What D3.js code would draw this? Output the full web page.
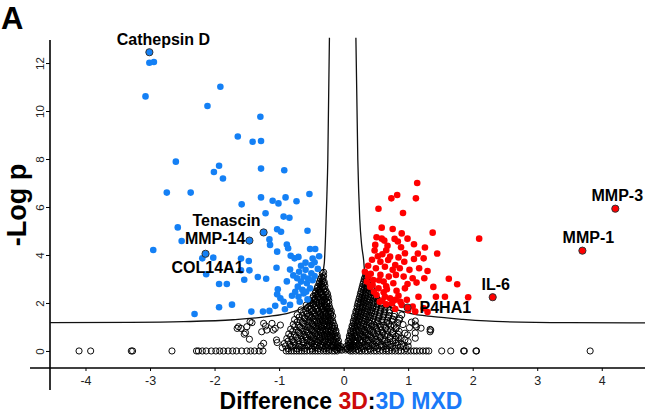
<!DOCTYPE html>
<html>
<head>
<meta charset="utf-8">
<script src="https://cdn.jsdelivr.net/npm/d3@7"></script>
<style>
  body { margin: 0; background: #fff; }
  svg { display: block; font-family: 'Liberation Sans', Arial, sans-serif; }
</style>
</head>
<body>
<div id="chart"></div>
<script>
// ticks
const xTicks = [-4, -3, -2, -1, 0, 1, 2, 3, 4]
const yTicks = [0, 2, 4, 6, 8, 10, 12]

// significant, higher in 3D MXD (blue)
const mxdUp = [
  [-3.01, 12.01], [-2.94, 12.04], [-3.07, 10.61], [-2.11, 10.21], [-1.91, 11.01], [-1.29, 9.76],
  [-1.64, 8.94], [-1.41, 8.72], [-1.28, 8.75], [-2.60, 7.89], [-1.93, 7.72], [-2.01, 7.46],
  [-1.87, 7.19], [-1.28, 7.60], [-0.92, 7.53], [-2.74, 6.60], [-2.37, 6.60], [-1.28, 6.40],
  [-1.10, 6.26], [-1.01, 6.15], [-0.90, 6.40], [-0.73, 6.24], [-0.53, 6.54], [-1.58, 6.11],
  [-1.21, 5.74], [-0.93, 5.60], [-0.84, 5.55], [-2.57, 5.15], [-2.51, 4.58], [-2.95, 4.21],
  [-1.03, 5.07], [-0.97, 4.97], [-1.15, 4.65], [-1.14, 4.42], [-0.88, 4.44], [-0.86, 4.28],
  [-0.56, 5.01], [-1.03, 4.14], [-0.82, 3.97], [-0.76, 3.86], [-0.52, 4.25], [-0.44, 4.25],
  [-0.48, 3.85], [-1.59, 3.85], [-1.47, 3.75], [-2.02, 3.89], [-2.19, 3.86], [-1.46, 3.36],
  [-1.59, 3.36], [-2.13, 3.20], [-1.04, 3.47], [-0.83, 3.39], [-0.59, 3.68], [-0.50, 3.58],
  [-0.69, 3.30], [-0.59, 3.38], [-0.50, 3.24], [-1.33, 3.08], [-1.20, 3.01], [-1.93, 2.79],
  [-1.81, 2.79], [-1.54, 2.97], [-0.72, 3.03], [-0.66, 2.89], [-0.57, 2.82], [-0.71, 2.68],
  [-0.52, 2.61], [-1.02, 2.57], [-1.03, 2.36], [-0.98, 2.20], [-0.93, 2.05], [-0.80, 2.30],
  [-0.70, 2.26], [-0.62, 2.40], [-0.83, 1.92], [-0.91, 1.74], [-1.73, 1.93], [-1.93, 1.82],
  [-2.31, 1.54], [-1.43, 1.64], [-1.25, 1.64], [-1.15, 1.67], [-1.06, 1.88],
  [-0.62, 3.10], [-0.55, 3.02], [-0.45, 3.12], [-0.64, 2.55], [-0.58, 2.47], [-0.48, 2.95],
  [-0.75, 2.47], [-0.68, 2.05], [-0.88, 2.90], [-0.78, 3.15], [-0.40, 3.42], [-0.45, 3.70],
  [-0.66, 3.55], [-0.70, 3.92], [-0.38, 3.95], [-0.56, 2.15]
]

// significant, higher in 3D (red)
const d3Up = [
  [1.14, 7.00], [0.74, 6.36], [0.83, 6.50], [1.12, 6.36], [0.54, 5.93], [0.92, 5.75],
  [0.59, 5.14], [0.76, 5.08], [1.38, 4.93], [2.10, 4.68], [0.51, 4.74], [0.59, 4.68],
  [0.79, 4.67], [0.84, 4.56], [0.99, 4.68], [0.49, 4.42], [0.68, 4.38], [0.89, 4.32],
  [1.09, 4.45], [1.26, 4.31], [0.48, 4.19], [0.60, 4.03], [0.72, 3.93], [0.85, 3.90],
  [0.95, 4.07], [1.15, 4.06], [1.45, 4.06], [1.09, 3.83], [1.24, 3.86], [0.57, 3.72],
  [0.69, 3.79], [0.80, 3.58], [0.94, 3.72], [0.64, 3.51], [0.76, 3.38], [0.87, 3.45],
  [1.02, 3.38], [1.17, 3.45], [1.30, 3.33], [0.57, 3.17], [0.70, 3.10], [0.81, 3.17],
  [0.93, 3.10], [1.07, 3.03], [1.25, 3.03], [1.63, 3.01], [0.46, 2.96], [0.62, 2.89],
  [0.77, 2.82], [0.99, 2.79], [1.13, 2.85], [1.76, 2.78], [1.39, 2.67], [0.41, 2.68],
  [0.54, 2.61], [0.67, 2.57], [0.82, 2.51], [0.95, 2.61], [0.51, 2.33], [0.64, 2.26],
  [0.80, 2.13], [0.98, 2.13], [1.16, 2.26], [1.57, 2.26], [1.93, 2.24], [1.43, 2.26],
  [0.75, 1.99], [0.90, 1.92], [1.07, 1.85], [1.24, 1.78], [1.11, 1.64],
  [0.38, 3.10], [0.36, 2.89], [0.45, 2.75], [0.47, 2.47], [0.33, 3.30], [0.42, 3.22],
  [0.50, 3.45], [0.55, 2.95], [0.56, 2.05], [0.62, 2.45], [0.66, 1.95], [0.80, 1.75],
  [0.66, 2.70], [0.72, 2.20], [0.85, 2.30], [0.88, 2.05], [0.53, 3.95], [0.66, 4.20],
  [0.63, 4.60], [0.90, 4.90], [0.44, 3.80], [0.38, 3.55], [1.00, 1.70], [1.30, 1.62], [0.60, 2.10]
]

// labelled proteins
const named = [
  { name: 'Cathepsin D', x: -3.01, y: 12.45, grp: 'mxd' },
  { name: 'Tenascin', x: -1.24, y: 4.94, grp: 'mxd' },
  { name: 'MMP-14', x: -1.46, y: 4.60, grp: 'mxd' },
  { name: 'COL14A1', x: -2.14, y: 4.05, grp: 'mxd' },
  { name: 'IL-6', x: 2.31, y: 2.24, grp: '3d' },
  { name: 'P4HA1', x: 0.99, y: 1.81, grp: '3d' },
  { name: 'MMP-1', x: 3.70, y: 4.18, grp: '3d' },
  { name: 'MMP-3', x: 4.21, y: 5.93, grp: '3d' }
]

// not significant, -log p = 0 row
const zeroRow = [
  -4.10, -3.92, -3.29, -3.27, -2.66, -2.28, -2.25, -2.19, -2.13, -2.05, -1.98, -1.92, -1.86,
  -1.79, -1.72, -1.66, -1.58, -1.50, -1.44, -1.38, -1.31, -1.25, -0.89, -0.85, -0.81, -0.77,
  -0.73, -0.69, -0.65, -0.61, -0.57, -0.52, -0.48, -0.44, -0.40, -0.36, -0.31, -0.27, -0.23,
  -0.18, -0.14, -0.10, 0.10, 0.14, 0.19, 0.24, 0.28, 0.33, 0.37, 0.42, 0.47, 0.51, 0.56, 0.61,
  0.66, 0.70, 0.75, 0.80, 0.85, 0.89, 0.94, 0.99, 1.04, 1.09, 1.13, 1.18, 1.23, 1.28, 1.32,
  1.52, 1.66, 1.86, 1.87, 2.05, 2.06, 3.82
]

// not significant, rest of the cloud
const notSig = [
  [-1.65, 0.94], [-1.59, 0.94], [-1.50, 1.01], [-1.42, 1.18], [-1.52, 0.76], [-1.46, 0.49],
  [-1.24, 0.32], [-1.21, 1.04], [-1.27, 0.80], [-1.19, 0.87], [-1.09, 0.87], [-1.03, 0.35],
  [-1.24, 1.15], [-1.11, 1.15], [-1.06, 0.94], [-0.98, 1.08], [-1.45, 1.22], [-1.63, 1.01],
  [-1.28, 0.20], [-1.04, 0.46], [-1.54, 0.70],
  [1.35, 0.87], [1.13, 1.01], [0.99, 0.67], [1.02, 0.97], [0.95, 0.46], [1.11, 1.25],
  [0.90, 1.50], [1.34, 0.90], [1.11, 1.08], [0.95, 0.74], [1.00, 0.39], [1.11, 0.53],
  [0.87, 1.36], [0.77, 1.78], [1.05, 1.20], [1.20, 0.95], [0.92, 1.10], [1.00, 0.20],
  [0.85, 0.55], [1.11, 0.75], [1.34, 0.80],
  [-0.95, 0.14], [-0.86, 0.10], [-0.79, 0.17], [-0.72, 0.09], [-0.66, 0.15], [-0.60, 0.11],
  [-0.54, 0.18], [-0.49, 0.08], [-0.44, 0.14], [-0.39, 0.10], [-0.34, 0.16], [-0.30, 0.09],
  [-0.26, 0.13], [-0.22, 0.07], [-0.18, 0.15], [-0.14, 0.10], [-0.11, 0.05], [-0.08, 0.12],
  [-0.05, 0.06], [-0.03, 0.03],
  [0.03, 0.04], [0.05, 0.09], [0.08, 0.05], [0.11, 0.13], [0.14, 0.08], [0.18, 0.15],
  [0.22, 0.07], [0.26, 0.12], [0.31, 0.09], [0.36, 0.16], [0.41, 0.08], [0.47, 0.13],
  [0.53, 0.10], [0.59, 0.17], [0.66, 0.09], [0.73, 0.14], [0.80, 0.11], [0.88, 0.16], [0.97, 0.10],
  [-0.90, 0.21], [-0.82, 0.18], [-0.75, 0.23], [-0.69, 0.19], [-0.63, 0.24], [-0.57, 0.20],
  [-0.51, 0.22], [-0.46, 0.18], [-0.41, 0.24], [-0.37, 0.20], [-0.32, 0.22], [-0.28, 0.19],
  [-0.24, 0.23], [-0.20, 0.18], [-0.16, 0.21], [-0.12, 0.17], [-0.09, 0.14], [-0.06, 0.11],
  [0.06, 0.12], [0.09, 0.16], [0.12, 0.20], [0.16, 0.23], [0.20, 0.19], [0.24, 0.22],
  [0.29, 0.18], [0.34, 0.23], [0.39, 0.20], [0.44, 0.24], [0.50, 0.19], [0.56, 0.22],
  [0.62, 0.18], [0.69, 0.23], [0.76, 0.20], [0.84, 0.24], [0.93, 0.19],
  [-0.92, 0.31], [-0.83, 0.27], [-0.76, 0.34], [-0.69, 0.28], [-0.62, 0.33], [-0.56, 0.26],
  [-0.50, 0.32], [-0.45, 0.29], [-0.40, 0.35], [-0.35, 0.27], [-0.30, 0.32], [-0.26, 0.28],
  [-0.22, 0.34], [-0.18, 0.26], [-0.14, 0.31], [-0.10, 0.25], [-0.07, 0.22], [-0.04, 0.18],
  [0.04, 0.19], [0.07, 0.24], [0.10, 0.29], [0.14, 0.26], [0.18, 0.33], [0.23, 0.28],
  [0.28, 0.34], [0.33, 0.27], [0.39, 0.32], [0.45, 0.29], [0.51, 0.35], [0.58, 0.27],
  [0.65, 0.31], [0.72, 0.28], [0.81, 0.33], [0.90, 0.29],
  [-0.86, 0.41], [-0.78, 0.38], [-0.70, 0.43], [-0.63, 0.39], [-0.57, 0.44], [-0.51, 0.37],
  [-0.46, 0.42], [-0.41, 0.39], [-0.36, 0.44], [-0.32, 0.38], [-0.28, 0.41], [-0.24, 0.37],
  [-0.20, 0.43], [-0.16, 0.39], [-0.12, 0.36], [-0.09, 0.33],
  [0.08, 0.33], [0.12, 0.38], [0.16, 0.42], [0.20, 0.37], [0.25, 0.43], [0.30, 0.39],
  [0.35, 0.44], [0.41, 0.38], [0.47, 0.42], [0.54, 0.39], [0.61, 0.44], [0.68, 0.38],
  [0.76, 0.42], [0.85, 0.39],
  [-0.88, 0.52], [-0.80, 0.47], [-0.71, 0.54], [-0.64, 0.49], [-0.58, 0.55], [-0.52, 0.46],
  [-0.47, 0.51], [-0.42, 0.48], [-0.37, 0.54], [-0.32, 0.47], [-0.28, 0.52], [-0.24, 0.49],
  [-0.20, 0.55], [-0.16, 0.46], [-0.12, 0.50], [-0.08, 0.42],
  [0.07, 0.41], [0.10, 0.47], [0.14, 0.52], [0.18, 0.46], [0.22, 0.53], [0.27, 0.48],
  [0.32, 0.54], [0.38, 0.47], [0.44, 0.52], [0.50, 0.49], [0.57, 0.55], [0.64, 0.47],
  [0.72, 0.52], [0.80, 0.48], [0.89, 0.53],
  [-0.82, 0.61], [-0.74, 0.58], [-0.66, 0.63], [-0.59, 0.59], [-0.53, 0.64], [-0.47, 0.57],
  [-0.42, 0.62], [-0.37, 0.58], [-0.33, 0.64], [-0.29, 0.59], [-0.25, 0.62], [-0.21, 0.57],
  [-0.17, 0.63], [-0.13, 0.58], [-0.10, 0.55],
  [0.09, 0.54], [0.13, 0.58], [0.17, 0.63], [0.21, 0.57], [0.26, 0.62], [0.31, 0.59],
  [0.37, 0.64], [0.43, 0.58], [0.50, 0.62], [0.57, 0.59], [0.64, 0.64], [0.72, 0.58], [0.81, 0.62],
  [-0.85, 0.71], [-0.76, 0.67], [-0.68, 0.74], [-0.61, 0.68], [-0.55, 0.73], [-0.49, 0.66],
  [-0.44, 0.72], [-0.39, 0.68], [-0.34, 0.74], [-0.30, 0.67], [-0.26, 0.71], [-0.22, 0.66],
  [-0.18, 0.73], [-0.14, 0.68], [-0.10, 0.64],
  [0.09, 0.63], [0.12, 0.69], [0.16, 0.74], [0.20, 0.67], [0.25, 0.72], [0.30, 0.68],
  [0.35, 0.74], [0.41, 0.67], [0.47, 0.71], [0.54, 0.68], [0.61, 0.74], [0.68, 0.67],
  [0.76, 0.72], [0.85, 0.69],
  [-0.79, 0.81], [-0.70, 0.78], [-0.63, 0.83], [-0.56, 0.79], [-0.50, 0.84], [-0.45, 0.77],
  [-0.40, 0.82], [-0.36, 0.78], [-0.32, 0.84], [-0.28, 0.79], [-0.24, 0.82], [-0.20, 0.77],
  [-0.16, 0.83], [-0.12, 0.76],
  [0.11, 0.76], [0.15, 0.81], [0.19, 0.84], [0.24, 0.78], [0.29, 0.83], [0.34, 0.79],
  [0.40, 0.84], [0.46, 0.78], [0.53, 0.82], [0.60, 0.79], [0.68, 0.84], [0.76, 0.78], [0.86, 0.82],
  [-0.82, 0.91], [-0.73, 0.87], [-0.65, 0.94], [-0.58, 0.88], [-0.52, 0.93], [-0.46, 0.86],
  [-0.41, 0.92], [-0.36, 0.88], [-0.32, 0.94], [-0.28, 0.87], [-0.24, 0.92], [-0.20, 0.86],
  [-0.16, 0.93], [-0.12, 0.85],
  [0.11, 0.84], [0.15, 0.90], [0.19, 0.94], [0.23, 0.87], [0.28, 0.92], [0.33, 0.88],
  [0.39, 0.94], [0.45, 0.87], [0.51, 0.91], [0.58, 0.88], [0.65, 0.93], [0.73, 0.87], [0.81, 0.92],
  [-0.76, 1.01], [-0.68, 0.98], [-0.60, 1.03], [-0.54, 0.99], [-0.48, 1.04], [-0.43, 0.97],
  [-0.38, 1.02], [-0.34, 0.98], [-0.30, 1.04], [-0.26, 0.99], [-0.22, 1.02], [-0.18, 0.97], [-0.14, 0.95],
  [0.13, 0.95], [0.17, 1.00], [0.21, 1.04], [0.26, 0.98], [0.31, 1.03], [0.37, 0.99],
  [0.43, 1.04], [0.50, 0.98], [0.57, 1.02], [0.65, 0.99], [0.73, 1.04], [0.82, 0.98],
  [-0.78, 1.11], [-0.70, 1.07], [-0.62, 1.14], [-0.55, 1.08], [-0.49, 1.13], [-0.44, 1.06],
  [-0.39, 1.12], [-0.35, 1.08], [-0.30, 1.14], [-0.26, 1.07], [-0.22, 1.12], [-0.18, 1.06], [-0.14, 1.04],
  [0.13, 1.04], [0.17, 1.10], [0.21, 1.14], [0.26, 1.07], [0.31, 1.12], [0.36, 1.08],
  [0.42, 1.14], [0.48, 1.07], [0.55, 1.11], [0.62, 1.08], [0.70, 1.13], [0.78, 1.07],
  [-0.72, 1.21], [-0.64, 1.18], [-0.57, 1.23], [-0.51, 1.19], [-0.45, 1.24], [-0.40, 1.17],
  [-0.36, 1.22], [-0.32, 1.18], [-0.28, 1.24], [-0.24, 1.19], [-0.20, 1.22], [-0.16, 1.16],
  [0.15, 1.16], [0.19, 1.21], [0.23, 1.24], [0.28, 1.18], [0.33, 1.23], [0.39, 1.19],
  [0.45, 1.24], [0.52, 1.18], [0.59, 1.22], [0.67, 1.19], [0.75, 1.24], [0.84, 1.18],
  [-0.76, 1.31], [-0.67, 1.27], [-0.60, 1.34], [-0.53, 1.28], [-0.47, 1.33], [-0.42, 1.26],
  [-0.37, 1.32], [-0.33, 1.28], [-0.29, 1.34], [-0.25, 1.27], [-0.21, 1.31], [-0.17, 1.25],
  [0.15, 1.25], [0.19, 1.30], [0.24, 1.34], [0.29, 1.27], [0.34, 1.32], [0.40, 1.28],
  [0.46, 1.34], [0.53, 1.27], [0.60, 1.31], [0.68, 1.28], [0.76, 1.33], [0.86, 1.29],
  [-0.69, 1.41], [-0.61, 1.38], [-0.55, 1.43], [-0.49, 1.39], [-0.44, 1.44], [-0.39, 1.37],
  [-0.35, 1.42], [-0.31, 1.38], [-0.27, 1.44], [-0.23, 1.39], [-0.19, 1.36],
  [0.17, 1.36], [0.21, 1.41], [0.25, 1.44], [0.30, 1.38], [0.35, 1.43], [0.41, 1.39],
  [0.47, 1.44], [0.54, 1.38], [0.61, 1.42], [0.69, 1.39], [0.78, 1.44],
  [-0.72, 1.51], [-0.64, 1.47], [-0.57, 1.54], [-0.51, 1.48], [-0.45, 1.53], [-0.40, 1.46],
  [-0.36, 1.52], [-0.32, 1.48], [-0.28, 1.54], [-0.24, 1.47], [-0.20, 1.51], [-0.17, 1.45],
  [0.17, 1.45], [0.21, 1.50], [0.26, 1.54], [0.31, 1.47], [0.36, 1.52], [0.42, 1.48],
  [0.48, 1.54], [0.55, 1.47], [0.62, 1.51], [0.70, 1.48], [0.79, 1.53],
  [-0.62, 1.61], [-0.56, 1.58], [-0.50, 1.63], [-0.45, 1.59], [-0.40, 1.64], [-0.36, 1.57],
  [-0.32, 1.62], [-0.28, 1.58], [-0.24, 1.63], [-0.20, 1.57],
  [0.19, 1.56], [0.23, 1.61], [0.27, 1.64], [0.32, 1.58], [0.37, 1.63], [0.43, 1.59],
  [0.49, 1.64], [0.56, 1.58], [0.63, 1.62], [0.71, 1.59],
  [-0.66, 1.71], [-0.59, 1.67], [-0.53, 1.74], [-0.47, 1.68], [-0.42, 1.73], [-0.38, 1.66],
  [-0.34, 1.72], [-0.30, 1.68], [-0.26, 1.74], [-0.22, 1.67], [-0.19, 1.65],
  [0.19, 1.65], [0.23, 1.70], [0.28, 1.74], [0.33, 1.67], [0.38, 1.72], [0.44, 1.68],
  [0.50, 1.74], [0.57, 1.67], [0.64, 1.71], [0.71, 1.68],
  [-0.56, 1.81], [-0.50, 1.78], [-0.45, 1.83], [-0.40, 1.79], [-0.36, 1.84], [-0.32, 1.77],
  [-0.28, 1.82], [-0.24, 1.78], [-0.21, 1.76],
  [0.21, 1.76], [0.25, 1.81], [0.29, 1.84], [0.34, 1.78], [0.39, 1.83], [0.45, 1.79],
  [0.51, 1.84], [0.58, 1.78], [0.64, 1.82],
  [-0.58, 1.91], [-0.52, 1.87], [-0.47, 1.94], [-0.42, 1.88], [-0.38, 1.93], [-0.34, 1.86],
  [-0.30, 1.92], [-0.26, 1.88], [-0.22, 1.85],
  [0.21, 1.85], [0.25, 1.90], [0.30, 1.94], [0.35, 1.87], [0.40, 1.92], [0.46, 1.88],
  [0.52, 1.94], [0.59, 1.87], [0.66, 1.91],
  [-0.52, 2.01], [-0.47, 1.98], [-0.42, 2.03], [-0.38, 1.99], [-0.34, 2.04], [-0.30, 1.97],
  [-0.26, 2.02], [-0.23, 1.98],
  [0.22, 1.97], [0.26, 2.01], [0.30, 2.04], [0.35, 1.98], [0.40, 2.03], [0.46, 1.99],
  [0.52, 2.04], [0.58, 1.98],
  [-0.52, 2.09], [-0.47, 2.13], [-0.42, 2.07], [-0.38, 2.14], [-0.34, 2.08], [-0.30, 2.12],
  [-0.26, 2.06], [-0.23, 2.10],
  [0.23, 2.06], [0.27, 2.11], [0.31, 2.14], [0.36, 2.07], [0.41, 2.12], [0.47, 2.08], [0.53, 2.13],
  [-0.48, 2.21], [-0.44, 2.18], [-0.40, 2.23], [-0.36, 2.19], [-0.32, 2.24], [-0.28, 2.17], [-0.25, 2.21],
  [0.24, 2.17], [0.28, 2.21], [0.32, 2.24], [0.37, 2.18], [0.42, 2.23], [0.47, 2.19], [0.51, 2.22],
  [-0.47, 2.28], [-0.43, 2.33], [-0.39, 2.27], [-0.35, 2.34], [-0.31, 2.28], [-0.27, 2.32], [-0.24, 2.26],
  [0.25, 2.26], [0.29, 2.31], [0.33, 2.34], [0.38, 2.27], [0.43, 2.32], [0.48, 2.28],
  [-0.44, 2.41], [-0.40, 2.38], [-0.36, 2.43], [-0.32, 2.39], [-0.28, 2.44], [-0.25, 2.38],
  [0.26, 2.38], [0.30, 2.42], [0.34, 2.44], [0.38, 2.39], [0.43, 2.43], [0.47, 2.40],
  [-0.43, 2.49], [-0.39, 2.53], [-0.35, 2.47], [-0.31, 2.54], [-0.27, 2.48],
  [0.27, 2.47], [0.31, 2.52], [0.35, 2.55], [0.40, 2.48], [0.45, 2.51],
  [-0.41, 2.61], [-0.37, 2.58], [-0.33, 2.63], [-0.29, 2.59],
  [0.28, 2.58], [0.32, 2.62], [0.36, 2.64], [0.40, 2.59], [0.44, 2.62],
  [-0.40, 2.69], [-0.36, 2.73], [-0.32, 2.67], [-0.29, 2.72],
  [0.29, 2.68], [0.33, 2.73], [0.37, 2.67], [0.41, 2.71],
  [-0.38, 2.81], [-0.34, 2.78], [-0.31, 2.83],
  [0.30, 2.79], [0.34, 2.82], [0.38, 2.78],
  [-0.37, 2.89], [-0.33, 2.93], [-0.30, 2.87],
  [0.31, 2.88], [0.35, 2.93], [0.38, 2.87],
  [-0.36, 3.00], [-0.32, 3.02], [0.32, 2.99], [0.35, 3.02],
  [-0.34, 3.08], [-0.31, 3.13], [0.33, 3.07], [0.36, 3.12],
  [-0.33, 3.24], [-0.31, 3.28], [0.34, 3.23]
]

// significance threshold curves
const leftCurve = [
  [-4.55, 1.18], [-3.3, 1.19], [-2.48, 1.22], [-1.71, 1.30], [-1.19, 1.43], [-0.83, 1.60],
  [-0.60, 1.85], [-0.46, 2.26], [-0.40, 2.58], [-0.35, 2.96], [-0.30, 3.65], [-0.28, 4.8],
  [-0.26, 6.43], [-0.245, 7.96], [-0.22, 13.05]
]
const rightCurve = [
  [0.19, 13.05], [0.22, 7.96], [0.25, 5.5], [0.28, 4.4], [0.31, 3.79], [0.33, 3.17],
  [0.40, 2.68], [0.51, 2.26], [0.72, 1.85], [1.03, 1.57], [1.39, 1.43], [1.85, 1.32],
  [2.47, 1.22], [3.5, 1.18], [4.67, 1.17]
]

const W = 645
const H = 413
const blue = '#1480f5'
const red = '#ff0000'

const svg = d3.select('#chart').append('svg').attr('width', W).attr('height', H)

const x = d3.scaleLinear().domain([-4.55, 4.67]).range([50, 645])
const y = d3.scaleLinear().domain([-0.71, 12.96]).range([368, 40])

// x axis
let xAxis = svg.append('g')
    .attr('transform', 'translate(0,' + y(-0.71) + ')')
    .call(d3.axisBottom(x).tickValues(xTicks).tickSize(3).tickPadding(5).tickFormat((d) => String(d)))
xAxis.select('.domain').remove()
xAxis.append('line')
    .attr('x1', x.range()[0] - 20).attr('x2', x.range()[1])
    .attr('stroke', '#000').attr('stroke-width', 1.6)
xAxis.selectAll('text').attr('font-size', 12.5).attr('fill', '#222')
    .attr('font-family', "'Liberation Sans', Arial, sans-serif")

// y axis
let yAxis = svg.append('g')
    .attr('transform', 'translate(' + x.range()[0] + ',0)')
    .call(d3.axisLeft(y).tickValues(yTicks).tickSize(4))
yAxis.select('.domain').remove()
yAxis.selectAll('text').remove()
yAxis.append('line')
    .attr('y1', y.range()[1]).attr('y2', y.range()[0] + 22)
    .attr('stroke', '#000').attr('stroke-width', 1.6)
yAxis.selectAll('.tick').append('text')
    .attr('transform', 'translate(-6,0) rotate(-90)')
    .attr('text-anchor', 'middle')
    .attr('font-size', 11.5)
    .attr('fill', '#222')
    .text((d) => d)

// threshold curves
let line = d3.line()
    .x((d) => x(d[0]))
    .y((d) => y(d[1]))
    .curve(d3.curveMonotoneX)

svg.selectAll('path.cut')
    .data([leftCurve, rightCurve])
    .enter().append('path')
      .attr('class', 'cut')
      .attr('d', line)
      .attr('fill', 'none')
      .attr('stroke', '#111')
      .attr('stroke-width', 1.3)

// points
let pts = svg.append('g')

pts.selectAll('circle.z')
    .data(zeroRow)
    .enter().append('circle')
      .attr('class', 'z')
      .attr('cx', (d) => x(d))
      .attr('cy', y(0))
      .attr('r', 3.1)
      .attr('fill', 'none')
      .attr('stroke', '#000')
      .attr('stroke-width', 0.95)

pts.selectAll('circle.ns')
    .data(notSig)
    .enter().append('circle')
      .attr('class', 'ns')
      .attr('cx', (d) => x(d[0]))
      .attr('cy', (d) => y(d[1]))
      .attr('r', 3.1)
      .attr('fill', 'none')
      .attr('stroke', '#000')
      .attr('stroke-width', 0.95)

pts.selectAll('circle.mxd')
    .data(mxdUp)
    .enter().append('circle')
      .attr('class', 'mxd')
      .attr('cx', (d) => x(d[0]))
      .attr('cy', (d) => y(d[1]))
      .attr('r', 3.3)
      .attr('fill', blue)

pts.selectAll('circle.up3d')
    .data(d3Up)
    .enter().append('circle')
      .attr('class', 'up3d')
      .attr('cx', (d) => x(d[0]))
      .attr('cy', (d) => y(d[1]))
      .attr('r', 3.3)
      .attr('fill', red)

pts.selectAll('circle.named')
    .data(named)
    .enter().append('circle')
      .attr('class', 'named')
      .attr('cx', (d) => x(d.x))
      .attr('cy', (d) => y(d.y))
      .attr('r', 3.6)
      .attr('fill', (d) => (d.grp === 'mxd' ? blue : red))
      .attr('stroke', '#333')
      .attr('stroke-width', 1)

// label placement relative to each point
const labelPos = {
  'Cathepsin D': { dx: 14, dy: -7, anchor: 'middle' },
  'Tenascin': { dx: -3, dy: -6, anchor: 'end' },
  'MMP-14': { dx: -4, dy: 3, anchor: 'end' },
  'COL14A1': { dx: 2, dy: 19, anchor: 'middle' },
  'IL-6': { dx: 3, dy: -7, anchor: 'middle' },
  'P4HA1': { dx: 12, dy: 5, anchor: 'start' },
  'MMP-1': { dx: 6, dy: -8, anchor: 'middle' },
  'MMP-3': { dx: 2, dy: -8, anchor: 'middle' }
}

svg.selectAll('text.lab')
    .data(named)
    .enter().append('text')
      .attr('class', 'lab')
      .attr('x', (d) => x(d.x) + labelPos[d.name].dx)
      .attr('y', (d) => y(d.y) + labelPos[d.name].dy)
      .attr('text-anchor', (d) => labelPos[d.name].anchor)
      .attr('font-size', 16)
      .attr('font-weight', 'bold')
      .attr('fill', '#000')
      .text((d) => d.name)

// axis titles
svg.append('text')
    .attr('transform', 'translate(26,' + ((y.range()[0] + y.range()[1]) / 2 + 1) + ') rotate(-90)')
    .attr('text-anchor', 'middle')
    .attr('font-size', 27)
    .attr('font-weight', 'bold')
    .text('-Log p')

let xt = svg.append('text')
    .attr('x', 341)
    .attr('y', 409)
    .attr('text-anchor', 'middle')
    .attr('font-size', 23)
    .attr('font-weight', 'bold')
xt.append('tspan').text('Difference ')
xt.append('tspan').attr('fill', '#cc0a0a').text('3D')
xt.append('tspan').text(':')
xt.append('tspan').attr('fill', '#1a7af8').text('3D MXD')

svg.append('text')
    .attr('x', 1)
    .attr('y', 28.5)
    .attr('font-size', 31)
    .attr('font-weight', 'bold')
    .text('A')
</script>
</body>
</html>
